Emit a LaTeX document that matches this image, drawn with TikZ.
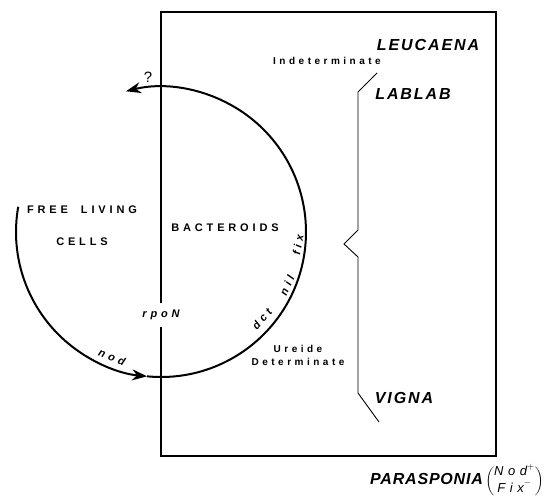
\documentclass[tikz,border=0pt]{standalone}
\usepackage{amsmath}
\usepackage{fontspec}
\setmainfont{Liberation Sans}
\newfontfamily\widefont{Liberation Sans}[LetterSpace=35]
\newfontfamily\genusfont{Liberation Sans}[LetterSpace=12]
\newfontfamily\parafont{Liberation Sans}[LetterSpace=5]
\usetikzlibrary{arrows.meta,calc}
\tikzset{
  cyc/.style={line width=2pt,-{Stealth[length=15pt,width=11pt]}},
  frm/.style={line width=1.1pt},
  brc/.style={line width=0.9pt},
  wlab/.style={font=\widefont\bfseries\fontsize{11}{13}\selectfont},
  slab/.style={font=\widefont\bfseries\fontsize{10}{13}\selectfont,align=center},
  gen/.style={font=\genusfont\bfseries\itshape\fontsize{16}{19}\selectfont},
  gene/.style={font=\widefont\bfseries\itshape\fontsize{11}{13}\selectfont,inner sep=1pt}
}
\newcommand{\trait}[1]{\textit{#1}}
\begin{document}
\begin{tikzpicture}[x=1pt,y=1pt]
\useasboundingbox (0,0) rectangle (556,496);
\draw[frm] (161,40) rectangle (496,484);
\coordinate (ctr) at (161,264);
\coordinate (lft) at ($(ctr)+(170:145)$);
\coordinate (mid) at ($(ctr)+(264.5:145)$);
\draw[cyc] (lft) arc[start angle=170,end angle=264.5,radius=145];
\draw[cyc] (mid) arc[start angle=264.5,end angle=464,radius=145];
\node[font=\fontsize{15}{17}\selectfont] (qm) at (148,419) {?};
\node[gene,fill=white,minimum height=24pt] (rpon) at (161,181) {rpoN};
\node[gene,rotate=-22] (nod) at (112,139) {nod};
\node[gene,rotate=49] (dct) at (262,177) {dct};
\node[gene,rotate=66] (nil) at (287,211) {nil};
\node[gene,rotate=80] (fix) at (298,251) {fix};
\node[wlab] (free) at (82,286) {FREE\hspace{6pt} LIVING};
\node[wlab] (cells) at (82,254) {CELLS};
\node[wlab] (bact) at (225,268) {BACTEROIDS};
\node[gen] (leuc) at (428,451) {LEUCAENA};
\node[slab] (indet) at (327,435) {Indeterminate};
\node[gen] (labl) at (413,402) {LABLAB};
\node[slab] (ureide) at (298,141) {Ureide\\Determinate};
\node[gen] (vign) at (404,98) {VIGNA};
\node[gen,font=\parafont\bfseries\itshape\fontsize{16}{19}\selectfont,anchor=base west,inner sep=0pt] (para) at (370,12) {PARASPONIA};
\node[font=\widefont\itshape\fontsize{13}{15}\selectfont,anchor=base west,inner sep=0pt] (trt) at ([xshift=2pt]para.base east) {$\dbinom{\trait{Nod}^{+}}{\trait{Fix}^{-}}$};
\draw[brc] (377,423) -- (358,404) -- (358,266) -- (344,252) -- (358,239) -- (358,103) -- (379,74);
\end{tikzpicture}
\end{document}
